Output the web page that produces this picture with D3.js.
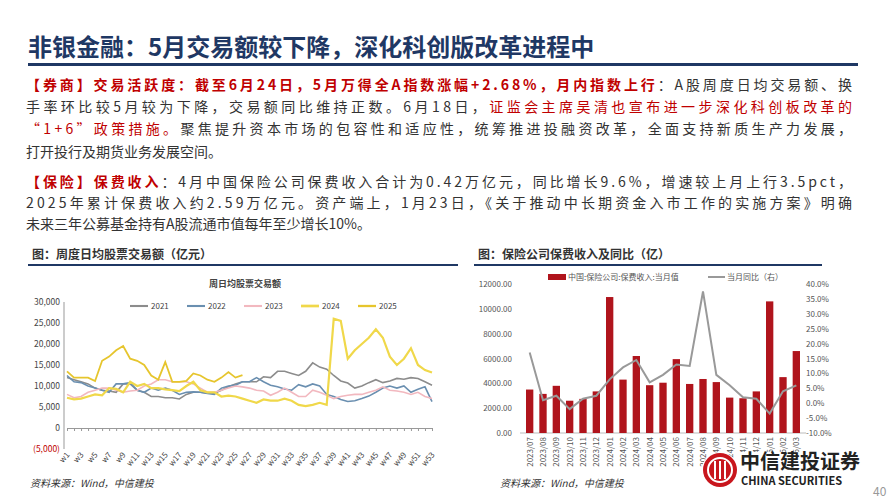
<!DOCTYPE html><html><head><meta charset="utf-8">
<script src="https://cdn.jsdelivr.net/npm/d3@7"></script>
<style>body{margin:0;background:#fff;position:relative}svg{font-family:"Noto Sans CJK SC","Noto Sans",sans-serif;display:block}
.hr{position:absolute;background:#1f3864}</style></head><body>
<svg id="s" width="889" height="500"></svg>
<div class="hr" style="left:28px;top:63px;width:830px;height:3px"></div>
<div class="hr" style="left:28px;top:264px;width:430px;height:2px"></div>
<div class="hr" style="left:474px;top:264px;width:348px;height:2px"></div>
<script>
const weeks = d3.range(1,54).map(i=>"w"+i);
const s2021=[12000,11500,11000,10500,9500,9000,8800,8500,10500,10500,9000,8500,7500,7500,7200,7200,6900,8000,8500,8500,8300,8300,9000,9800,10500,11000,11000,11000,12200,12000,13500,13500,13000,12500,13500,15500,14500,14000,12500,11200,10700,9500,10000,10800,11500,10800,11200,11800,11600,12000,11800,11000,10200];
const s2022=[12500,11000,10800,10000,9500,9000,8500,10500,10500,10800,9000,8500,9500,9000,9500,9000,8000,8500,8600,8500,8200,8000,9500,10000,10200,11000,11000,12000,11000,10200,9800,9300,9000,10300,9800,10500,10000,8000,7500,6800,6300,6500,7000,7600,8500,9500,10000,9500,10000,8500,9200,9800,6300];
const s2023=[8000,7200,7500,8500,9000,9500,9500,9000,8500,8800,9000,10000,10500,11500,11500,11000,11000,11000,10500,9500,8500,8500,9000,9500,10000,9800,9500,9000,8800,7800,8500,9500,8500,7500,7500,9000,8500,7800,7000,7500,7800,8000,8000,8500,9000,9800,9000,8800,8500,8000,8500,7500,7000];
const s2024=[7200,6800,7000,7500,8000,7800,9500,9300,8500,11000,10000,10500,9500,9500,9200,9000,8800,10000,11000,9000,8500,8500,7500,7700,7500,7000,6500,6000,6800,6500,6500,7000,6500,5500,5200,5500,6000,5500,26000,25500,16500,18500,20000,21500,23500,21500,17000,15000,16500,19000,15000,13800,13200];
const s2025=[13500,12000,12000,12000,11200,16000,17000,18500,19500,16500,16000,15000,12500,11500,15700,11000,11000,11200,13000,12500,11500,11000,12000,13300,12000,12600];
const yTicksL=[30000,25000,20000,15000,10000,5000,0,-5000];
const months=["2023/07","2023/08","2023/09","2023/10","2023/11","2023/12","2024/01","2024/02","2024/03","2024/04","2024/05","2024/06","2024/07","2024/08","2024/09","2024/10","2024/11","2024/12","2025/01","2025/02","2025/03"];
const premium=[3500,3150,3800,2600,2750,3350,10950,4300,6200,3850,4050,5950,3950,4350,4100,2850,2800,3350,10600,4500,6600];
const yoy=[17,1,2.5,-2,1.5,2.5,8,12,14.5,7,9.5,13,12.5,37.5,9.5,6,2,1.5,-3.5,4,6];

const svg=d3.select("#s");
const RED="#c00000",DARK="#333",NAVY="#1f3864";
svg.append("text").attr("x",28).attr("y",56).attr("font-size",24).attr("font-weight","bold").attr("fill",NAVY).text("非银金融：5月交易额较下降，深化科创版改革进程中");
const lines=[
 [90,[["【券商】交易活跃度：截至6月24日，5月万得全A指数涨幅+2.68%，月内指数上行",RED,1],["：A股周度日均交易额、换",DARK,0]],true],
 [112,[["手率环比较5月较为下降，交易额同比维持正数。6月18日，",DARK,0],["证监会主席吴清也宣布进一步深化科创板改革的",RED,0]],true],
 [134,[["“1+6”政策措施。",RED,0],["聚焦提升资本市场的包容性和适应性，统筹推进投融资改革，全面支持新质生产力发展，",DARK,0]],true],
 [157,[["打开投行及期货业务发展空间。",DARK,0]],false],
 [187,[["【保险】保费收入",RED,1],["：4月中国保险公司保费收入合计为0.42万亿元，同比增长9.6%，增速较上月上行3.5pct，",DARK,0]],true],
 [208,[["2025年累计保费收入约2.59万亿元。资产端上，1月23日，《关于推动中长期资金入市工作的实施方案》明确",DARK,0]],true],
 [229,[["未来三年公募基金持有A股流通市值每年至少增长10%。",DARK,0]],false]];
lines.forEach(([y,parts,full])=>{const t=svg.append("text").attr("x",26).attr("y",y).attr("font-size",14);
 if(full)t.attr("textLength",826).attr("lengthAdjust","spacing");
 parts.forEach(p=>t.append("tspan").attr("fill",p[1]).attr("font-weight",p[2]?"bold":"normal").text(p[0]));});
svg.append("text").attr("x",32).attr("y",259).attr("font-size",12).attr("font-weight","bold").attr("fill",DARK).text("图：周度日均股票交易额（亿元）");
svg.append("text").attr("x",478).attr("y",259).attr("font-size",12).attr("font-weight","bold").attr("fill",DARK).text("图：保险公司保费收入及同比（亿）");

// left chart
const x=d3.scalePoint().domain(weeks).range([67,432]);
const y=d3.scaleLinear().domain([-5000,30000]).range([449,302]);
yTicksL.forEach(v=>svg.append("text").attr("x",60).attr("y",y(v)+3).attr("text-anchor","end").attr("fill",v<0?RED:"#444").attr("font-size",8.5)
 .text(v<0?"("+d3.format(",")(-v)+")":d3.format(",")(v)));
svg.append("line").attr("x1",64).attr("x2",64).attr("y1",302).attr("y2",449).attr("stroke","#999");
svg.append("g").attr("transform",`translate(0,${y(0)})`).call(d3.axisBottom(x).tickSize(3).tickFormat(""))
 .call(g=>{g.select(".domain").attr("stroke","#999");g.selectAll("line").attr("stroke","#999");});
weeks.forEach((w,i)=>{if(i%2==0)svg.append("text").attr("transform",`translate(${x(w)+3},${455}) rotate(-50)`).attr("text-anchor","end").attr("font-size",8).attr("fill","#444").text(w);});
svg.append("text").attr("x",245).attr("y",287).attr("text-anchor","middle").attr("font-size",9).attr("font-weight","bold").attr("fill","#444").text("周日均股票交易额");
const ser=[["2021",s2021,"#8c8c8c",1.6],["2022",s2022,"#6a8fb0",1.6],["2023",s2023,"#f2b8bf",1.6],["2024",s2024,"#f0d84a",2.2],["2025",s2025,"#e6c52d",1.8]];
const line=d3.line().x((d,i)=>x(weeks[i])).y(d=>y(d));
ser.forEach(([n,d,c,w],k)=>{svg.append("path").attr("d",line(d)).attr("fill","none").attr("stroke",c).attr("stroke-width",w);
 const lx=130+k*57;svg.append("line").attr("x1",lx).attr("x2",lx+18).attr("y1",306).attr("y2",306).attr("stroke",c).attr("stroke-width",w+0.5);
 svg.append("text").attr("x",lx+21).attr("y",309).attr("font-size",8).attr("fill","#444").text(n);});
svg.append("text").attr("x",30).attr("y",487).attr("font-size",10).attr("font-style","italic").attr("fill","#333").text("资料来源：Wind，中信建投");

// right chart
const xb=d3.scaleBand().domain(months).range([520,806]).padding(0.45);
const yb=d3.scaleLinear().domain([0,12000]).range([433,284]);
const yr=d3.scaleLinear().domain([-10,40]).range([433,284]);
d3.range(0,12001,2000).forEach(v=>svg.append("text").attr("x",512).attr("y",yb(v)+3).attr("text-anchor","end").attr("font-size",8).attr("fill","#555").text(v.toFixed(2)));
d3.range(-10,41,5).forEach(v=>svg.append("text").attr("x",806).attr("y",yr(v)+3).attr("font-size",8).attr("fill","#555").text(v.toFixed(1)+"%"));
svg.append("line").attr("x1",520).attr("x2",806).attr("y1",433).attr("y2",433).attr("stroke","#bbb");
svg.selectAll(".b").data(premium).join("rect").attr("x",(d,i)=>xb(months[i])).attr("width",xb.bandwidth()).attr("y",d=>yb(d)).attr("height",d=>433-yb(d)).attr("fill","#b0141c");
svg.append("path").attr("d",d3.line().x((d,i)=>xb(months[i])+xb.bandwidth()/2).y(d=>yr(d))(yoy)).attr("fill","none").attr("stroke","#999").attr("stroke-width",2);
months.forEach(m=>svg.append("text").attr("transform",`translate(${xb(m)+xb.bandwidth()/2+3},437) rotate(-90)`).attr("text-anchor","end").attr("font-size",8).attr("fill","#555").text(m));
svg.append("rect").attr("x",548).attr("y",274).attr("width",18).attr("height",6).attr("fill","#b0141c");
svg.append("text").attr("x",568).attr("y",280).attr("font-size",8).attr("fill","#555").text("中国:保险公司:保费收入:当月值");
svg.append("line").attr("x1",708).attr("x2",725).attr("y1",277).attr("y2",277).attr("stroke","#999").attr("stroke-width",2);
svg.append("text").attr("x",727).attr("y",280).attr("font-size",8).attr("fill","#555").text("当月同比（右）");
svg.append("text").attr("x",500).attr("y",487).attr("font-size",10).attr("font-style","italic").attr("fill","#333").text("资料来源：Wind，中信建投");
svg.append("rect").attr("x",738).attr("y",452).attr("width",112).attr("height",36).attr("fill","#fff");
svg.append("circle").attr("cx",720).attr("cy",470).attr("r",18).attr("fill","#fff");
svg.append("circle").attr("cx",720).attr("cy",470).attr("r",17).attr("fill","#c8161d");
svg.append("circle").attr("cx",720).attr("cy",470).attr("r",12).attr("fill","none").attr("stroke","#fff").attr("stroke-width",2);
[-5,0,5].forEach(o=>svg.append("rect").attr("x",719+o).attr("y",461).attr("width",2).attr("height",18).attr("fill","#fff"));
svg.append("text").attr("x",740).attr("y",469).attr("font-size",20).attr("font-weight","bold").attr("fill","#222").text("中信建投证券");
svg.append("text").attr("x",741).attr("y",485).attr("font-size",11).attr("font-weight","bold").attr("fill","#222").text("CHINA SECURITIES");
svg.append("text").attr("x",873).attr("y",496).attr("font-size",12).attr("fill","#999").text("40");
</script></body></html>
